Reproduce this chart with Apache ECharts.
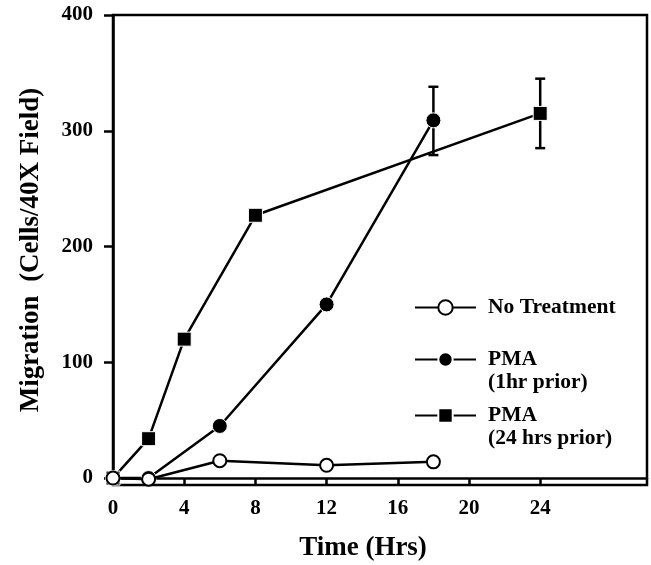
<!DOCTYPE html>
<html>
<head>
<meta charset="utf-8">
<script src="https://cdn.jsdelivr.net/npm/echarts@6/dist/echarts.min.js"></script>
<style>
  html, body { margin: 0; padding: 0; background: #fff; }
  #chart { width: 651px; height: 565px; }
</style>
</head>
<body>
<div id="chart"></div>
<script>
// data
const noTreatHrs = [0, 2, 6, 12, 18]
const noTreatVals = [0, -1, 15, 11, 14]
const pma1Hrs = [0, 2, 6, 12, 18]
const pma1Vals = [0, 0, 45, 150, 309]
const pma24Hrs = [0, 2, 4, 8, 24]
const pma24Vals = [0, 34, 120, 227, 315]
// error bars: [hour, low, high]
const errBars = [[18, 279, 338], [24, 285, 345]]
const xTicks = [0, 4, 8, 12, 16, 20, 24]
const yTicks = [0, 100, 200, 300, 400]

const font = 'Liberation Serif'
const pair = (xs, ys) => xs.map((x, i) => [x, ys[i]])

let chart = echarts.init(document.getElementById('chart'))

const legendText = {
  fontFamily: font,
  fontWeight: 'bold',
  fontSize: 21.5,
  color: '#000',
  lineHeight: 23,
  padding: [0, 0, 0, 7]
}
function oneLegend(name, top, label) {
  return {
    data: [name],
    left: 409,
    top: top,
    orient: 'vertical',
    itemWidth: 61,
    itemHeight: 18,
    selectedMode: false,
    textStyle: legendText,
    formatter: () => label
  }
}

let option = {
  animation: false,
  grid: {
    left: 113, right: 4, top: 15, bottom: 80,
    outerBoundsMode: 'none',
    show: true, borderColor: '#000', borderWidth: 2.5
  },
  legend: [
    oneLegend('No Treatment', 291, 'No Treatment'),
    oneLegend('PMA (1hr prior)', 320, '\nPMA\n(1hr prior)'),
    oneLegend('PMA (24 hrs prior)', 376, '\nPMA\n(24 hrs prior)')
  ],
  xAxis: {
    type: 'value',
    min: 0,
    max: 30,
    name: 'Time (Hrs)',
    nameLocation: 'middle',
    nameGap: 50,
    nameTextStyle: { fontFamily: font, fontWeight: 'bold', fontSize: 27, color: '#000', padding: [0, 34, 0, 0] },
    splitLine: { show: false },
    axisLine: { lineStyle: { color: '#000', width: 2.5 } },
    axisTick: { customValues: xTicks, length: 7, lineStyle: { color: '#000', width: 2.5 } },
    axisLabel: { customValues: xTicks, margin: 13, fontFamily: font, fontWeight: 'bold', fontSize: 21, color: '#000' }
  },
  yAxis: {
    type: 'value',
    min: -6,
    max: 400,
    name: 'Migration  (Cells/40X Field)',
    nameLocation: 'middle',
    nameGap: 68,
    nameTextStyle: { fontFamily: font, fontWeight: 'bold', fontSize: 27, color: '#000' },
    splitLine: { show: false },
    axisLine: { lineStyle: { color: '#000', width: 2.5 } },
    axisTick: { customValues: yTicks, length: 9, lineStyle: { color: '#000', width: 2.5 } },
    axisLabel: { customValues: yTicks, margin: 20, fontFamily: font, fontWeight: 'bold', fontSize: 21, color: '#000' }
  },
  series: [
    {
      type: 'custom',
      name: 'err',
      z: 1,
      data: errBars,
      renderItem(params, api) {
        const x = api.coord([api.value(0), 0])[0]
        const lo = api.coord([0, api.value(1)])[1]
        const hi = api.coord([0, api.value(2)])[1]
        const st = { stroke: '#000', lineWidth: 2.5 }
        return {
          type: 'group',
          children: [
            { type: 'line', shape: { x1: x, y1: lo, x2: x, y2: hi }, style: st },
            { type: 'line', shape: { x1: x - 5, y1: lo, x2: x + 5, y2: lo }, style: st },
            { type: 'line', shape: { x1: x - 5, y1: hi, x2: x + 5, y2: hi }, style: st }
          ]
        }
      }
    },
    {
      type: 'line',
      name: 'PMA (24 hrs prior)',
      z: 2,
      data: pair(pma24Hrs, pma24Vals),
      symbol: 'rect',
      symbolSize: 14,
      lineStyle: { color: '#000', width: 2.5 },
      itemStyle: { color: '#000', borderColor: '#fff', borderWidth: 1 }
    },
    {
      type: 'line',
      name: 'PMA (1hr prior)',
      z: 3,
      data: pair(pma1Hrs, pma1Vals),
      symbol: 'circle',
      symbolSize: 15,
      lineStyle: { color: '#000', width: 2.5 },
      itemStyle: { color: '#000', borderColor: '#fff', borderWidth: 1 }
    },
    {
      type: 'line',
      name: 'No Treatment',
      z: 4,
      data: pair(noTreatHrs, noTreatVals),
      symbol: 'circle',
      symbolSize: 13,
      lineStyle: { color: '#000', width: 2.5 },
      itemStyle: { color: '#fff', borderColor: '#000', borderWidth: 2 }
    }
  ]
}
chart.setOption(option)
</script>
</body>
</html>
